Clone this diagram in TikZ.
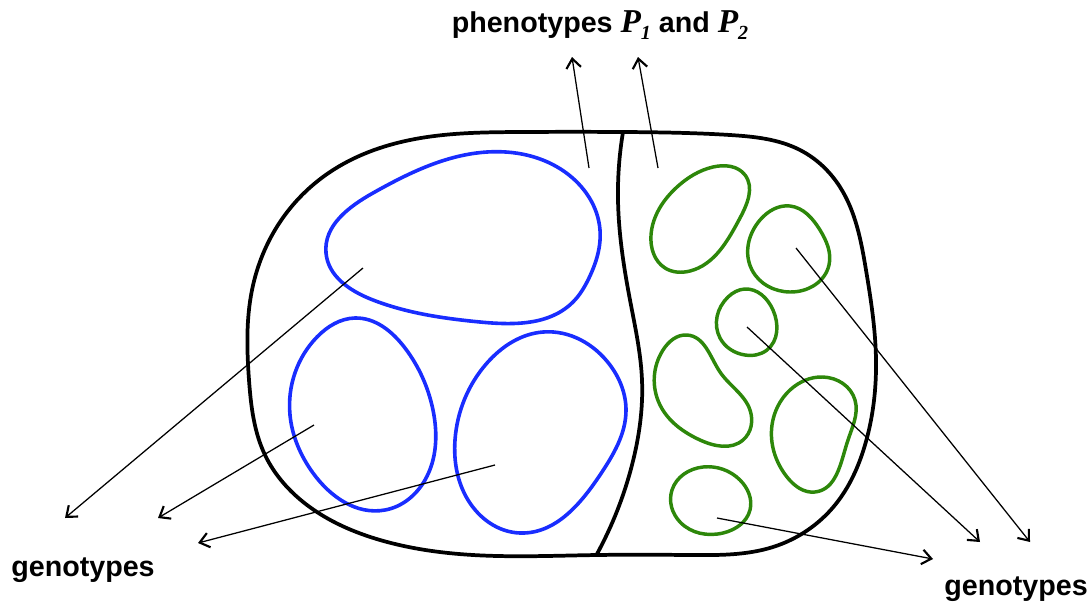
\documentclass[tikz,border=0pt]{standalone}
\usepackage{fontspec}
\setmainfont{Liberation Sans}
\newfontfamily\tms{Liberation Serif}
\usetikzlibrary{arrows.meta,hobby}
\definecolor{blobblue}{RGB}{25,45,255}
\definecolor{blobgreen}{RGB}{45,135,10}
\tikzset{
  outer/.style={line width=2.8pt, black},
  bluebl/.style={line width=2.7pt, blobblue, closed=true},
  greenbl/.style={line width=2.6pt, blobgreen, closed=true},
  conn/.style={line width=0.95pt, -{Straight Barb[length=7pt,width=11pt,line width=1.6pt]}},
  lbl/.style={font=\fontsize{21.5pt}{24pt}\selectfont\bfseries, inner sep=0pt}
}
\begin{document}
\begin{tikzpicture}[x=0.75pt,y=-0.75pt,use Hobby shortcut]
\useasboundingbox (0,0) rectangle (1092,604);
% outer shape
\draw[outer,closed=true] (623,132) .. (730,135) .. (800,150) .. (840,187) .. (866,270) .. (876,360)
 .. (865,445) .. (835,505) .. (773,547) .. (690,555) .. (597,555)
 .. (473,555) .. (380,540) .. (307,505) .. (265,455) .. (249,380)
 .. (252,290) .. (280,222) .. (330,172) .. (410,140) .. (520,132) .. (623,132);
% divider
\draw[outer] (623,132) .. (618,200) .. (630,300) .. (642,380) .. (632,465) .. (597,554);
% blue blobs
\draw[bluebl] (487,152) .. (565,172) .. (600,230) .. (589,278) .. (573,302) .. (480,322) .. (373,300) .. (326,253) .. (373,193) .. (487,152);
\draw[bluebl] (355,318) .. (405,348) .. (433,410) .. (425,480) .. (385,510) .. (313,473) .. (290,415) .. (317,337) .. (355,318);
\draw[bluebl] (543,332) .. (610,365) .. (626,410) .. (600,475) .. (520,533) .. (468,500) .. (455,440) .. (487,363) .. (543,332);
% green blobs
\draw[greenbl] (713,167) .. (745,175) .. (740,218) .. (690,271) .. (665,268) .. (651,235) .. (677,187) .. (713,167);
\draw[greenbl] (790,206) .. (820,230) .. (829,265) .. (790,292) .. (752,270) .. (760,220) .. (790,206);
\draw[greenbl] (745,289) .. (773,310) .. (767,350) .. (745,355) .. (720,338) .. (728,297) .. (745,289);
\draw[greenbl] (687,335) .. (720,372) .. (750,410) .. (743,440) .. (700,440) .. (660,405) .. (663,350) .. (687,335);
\draw[greenbl] (823,377) .. (855,400) .. (847,443) .. (815,492) .. (787,477) .. (772,425) .. (790,390) .. (823,377);
\draw[greenbl] (703,467) .. (740,480) .. (750,510) .. (723,533) .. (680,522) .. (672,490) .. (703,467);
% labels
\node[lbl] (ptitle) at (600,25) {phenotypes {\tms\itshape\fontsize{25pt}{25pt}\selectfont P\raisebox{-0.22em}{\fontsize{15pt}{15pt}\selectfont 1}} and {\tms\itshape\fontsize{25pt}{25pt}\selectfont P\raisebox{-0.22em}{\fontsize{15pt}{15pt}\selectfont 2}}};
\node[lbl] (gleft) at (83,570) {genotypes};
\node[lbl] (gright) at (1016,589) {genotypes};
% arrow ends
\coordinate (p1s) at (589,168); \coordinate (p1e) at (572,57);
\coordinate (p2s) at (658,168); \coordinate (p2e) at (638,57);
\coordinate (g1s) at (363,268); \coordinate (g1e) at (65,518);
\coordinate (g2s) at (314,425); \coordinate (g2e) at (158,518);
\coordinate (g3s) at (495,465); \coordinate (g3e) at (198,543);
\coordinate (g4s) at (796,248); \coordinate (g4e) at (1030,542);
\coordinate (g5s) at (747,327); \coordinate (g5e) at (980,542);
\coordinate (g6s) at (717,518); \coordinate (g6e) at (933,559);
\foreach \a in {p1,p2,g1,g2,g3,g4,g5,g6} \draw[conn] (\a s) -- (\a e);
\end{tikzpicture}
\end{document}
